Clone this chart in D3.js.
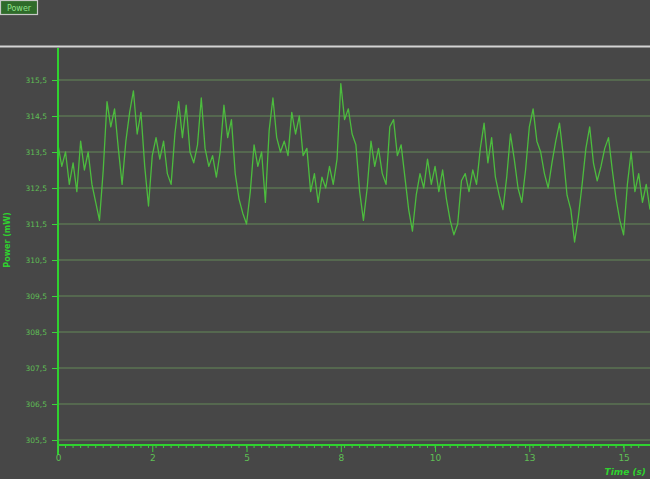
<!DOCTYPE html>
<html lang="en">
<head>
    <meta charset="UTF-8">
    <title>Power</title>
    <script src="https://cdnjs.cloudflare.com/ajax/libs/d3/7.8.2/d3.min.js"></script>
    <style>
        body{
            margin: 0;
            background-color: #474747;
            overflow: hidden;
        }
        svg{
            display: block;
            font-family: "DejaVu Sans", sans-serif;
        }
    </style>
</head>
<body>
    <div class="container"></div>
    <script>
        //data, one sample every 0.1 s
        let timeStep = 0.1;
        let powerValues = [
            313.7, 313.1, 313.5, 312.6, 313.2, 312.4, 313.8, 313.0, 313.5, 312.6,
            312.1, 311.6, 313.0, 314.9, 314.2, 314.7, 313.6, 312.6, 313.8, 314.6,
            315.2, 314.0, 314.6, 313.1, 312.0, 313.4, 313.9, 313.3, 313.8, 312.9,
            312.6, 314.0, 314.9, 313.9, 314.8, 313.5, 313.2, 313.7, 315.0, 313.6,
            313.1, 313.4, 312.8, 313.5, 314.8, 313.9, 314.4, 312.9, 312.2, 311.8,
            311.5, 312.4, 313.7, 313.1, 313.5, 312.1, 314.1, 315.0, 313.9, 313.5,
            313.8, 313.4, 314.6, 314.0, 314.5, 313.4, 313.6, 312.4, 312.9, 312.1,
            312.8, 312.5, 313.1, 312.6, 313.3, 315.4, 314.4, 314.7, 314.0, 313.7,
            312.4, 311.6, 312.5, 313.8, 313.1, 313.6, 312.9, 312.6, 314.2, 314.4,
            313.4, 313.7, 312.8, 311.9, 311.3, 312.3, 312.9, 312.5, 313.3, 312.6,
            313.1, 312.4, 313.0, 312.2, 311.6, 311.2, 311.5, 312.7, 312.9, 312.4,
            313.0, 312.6, 313.6, 314.3, 313.2, 313.9, 312.8, 312.3, 311.9, 312.8,
            314.0, 313.3, 312.5, 312.1, 313.0, 314.2, 314.7, 313.8, 313.5, 312.9,
            312.5, 313.2, 313.8, 314.3, 313.4, 312.3, 311.9, 311.0, 311.7, 312.6,
            313.6, 314.2, 313.2, 312.7, 313.1, 313.6, 313.9, 313.0, 312.2, 311.6,
            311.2, 312.6, 313.5, 312.4, 312.9, 312.1, 312.6, 311.9
        ];

        let yTicks = [315.5, 314.5, 313.5, 312.5, 311.5, 310.5, 309.5, 308.5, 307.5, 306.5, 305.5];
        let xTicks = [0, 2.5, 5, 7.5, 10, 12.5, 15];
        let xTickLabels = ['0', '2', '5', '8', '10', '13', '15'];

        let width = 650;
        let height = 479;
        let left = 58;
        let plotTop = 48;
        let axisY = 445;

        let svg = d3.select('.container').append('svg')
                    .attr('width', width)
                    .attr('height', height);

        let xScale = d3.scaleLinear().domain([0, 15.7]).range([left, width]);
        let yScale = d3.scaleLinear().domain([305.5, 315.5]).range([440, 80]);

        // top strip with the legend
        svg.append('rect').attr('x', 0).attr('y', 0).attr('width', width).attr('height', 46).attr('fill', '#484848');
        svg.append('rect').attr('x', 0.5).attr('y', 0.5).attr('width', 37).attr('height', 14)
            .attr('fill', '#2f6b2a').attr('stroke', '#c8c8c8').attr('stroke-width', 1.2);
        svg.append('text').attr('x', 19).attr('y', 11).attr('text-anchor', 'middle')
            .attr('font-size', 8).attr('fill', '#8fe08a').text('Power');
        svg.append('line').attr('x1', 0).attr('x2', width).attr('y1', 46.5).attr('y2', 46.5)
            .attr('stroke', '#d4d4d4').attr('stroke-width', 2);

        // gridlines
        svg.append('g').selectAll('line')
            .data(yTicks)
            .enter()
            .append('line')
            .attr('x1', left).attr('x2', width)
            .attr('y1', d => yScale(d)).attr('y2', d => yScale(d))
            .attr('stroke', '#648a58').attr('stroke-width', 1);

        // the trace
        let line = d3.line()
                     .x((d, i) => xScale(i * timeStep))
                     .y(d => yScale(d));
        svg.append('path')
            .datum(powerValues)
            .attr('d', line)
            .attr('fill', 'none')
            .attr('stroke', '#4cbc3e')
            .attr('stroke-width', 1.3)
            .attr('stroke-linejoin', 'round');

        // y axis
        let yAxis = d3.axisLeft(yScale)
                      .tickValues(yTicks)
                      .tickSize(6)
                      .tickPadding(5)
                      .tickFormat(d => d3.format('.1f')(d).replace('.', ','));
        let yg = svg.append('g').attr('transform', `translate(${left}, 0)`).call(yAxis);
        yg.select('.domain').remove();
        yg.selectAll('line').attr('stroke', '#3fcf3f');
        yg.selectAll('text').attr('fill', '#5fbf55').attr('font-size', 7.5).attr('font-family', 'DejaVu Sans');
        svg.append('line').attr('x1', left).attr('x2', left).attr('y1', plotTop).attr('y2', 455)
            .attr('stroke', '#2fd22f').attr('stroke-width', 2);

        // x axis
        let xMinor = d3.scaleLinear().domain([0, 15.5]).ticks(62);
        svg.append('g').selectAll('line')
            .data(xMinor)
            .enter()
            .append('line')
            .attr('x1', d => xScale(d)).attr('x2', d => xScale(d))
            .attr('y1', axisY).attr('y2', axisY + 3)
            .attr('stroke', '#3fcf3f').attr('stroke-width', 1);
        let xAxis = d3.axisBottom(xScale)
                      .tickValues(xTicks)
                      .tickSize(7)
                      .tickFormat((d, i) => xTickLabels[i]);
        let xg = svg.append('g').attr('transform', `translate(0, ${axisY})`).call(xAxis);
        xg.select('.domain').remove();
        xg.selectAll('line').attr('stroke', '#3fcf3f');
        xg.selectAll('text').attr('fill', '#5fbf55').attr('font-size', 9).attr('font-family', 'DejaVu Sans');
        svg.append('line').attr('x1', left - 1).attr('x2', width).attr('y1', axisY).attr('y2', axisY)
            .attr('stroke', '#2fd22f').attr('stroke-width', 2);

        // axis titles
        svg.append('text')
            .attr('transform', 'translate(10, 240) rotate(-90)')
            .attr('text-anchor', 'middle')
            .attr('font-size', 8).attr('font-weight', 'bold')
            .attr('fill', '#2fd22f')
            .text('Power (mW)');
        svg.append('text')
            .attr('x', 646).attr('y', 475)
            .attr('text-anchor', 'end')
            .attr('font-size', 9).attr('font-weight', 'bold').attr('font-style', 'italic')
            .attr('fill', '#2fd22f')
            .text('Time (s)');
    </script>
</body>
</html>
